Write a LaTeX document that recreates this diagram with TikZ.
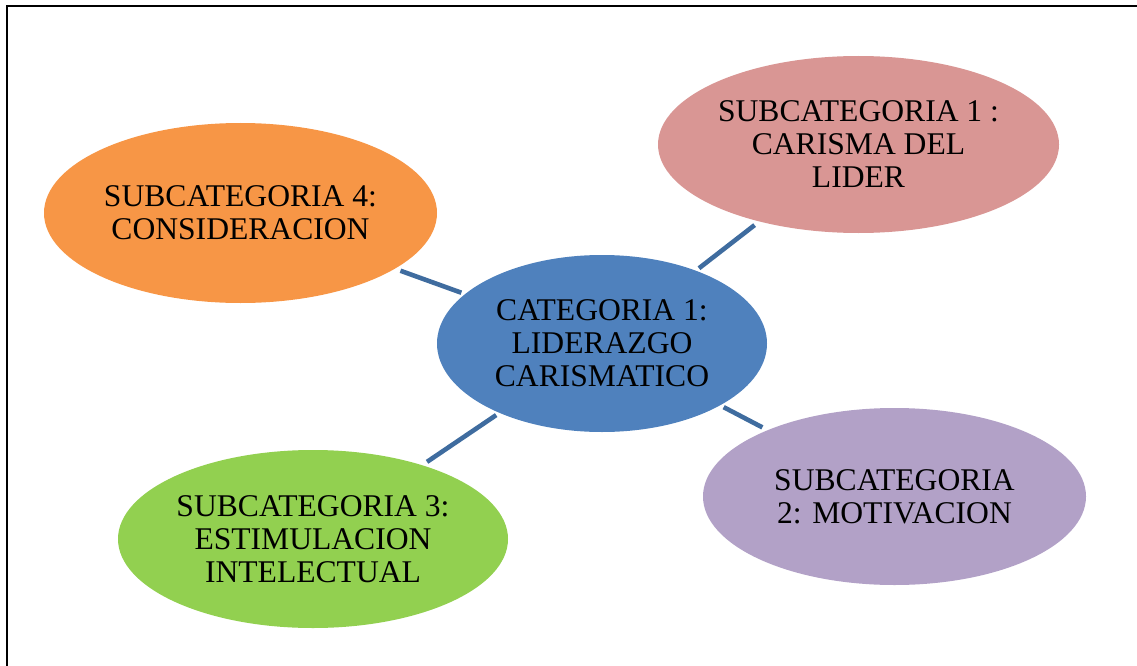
\documentclass[tikz,border=0pt]{standalone}
\usepackage{fontspec}
\setmainfont{Liberation Serif}
\usetikzlibrary{shapes.geometric}

\definecolor{catblue}{HTML}{4F81BD}
\definecolor{linkblue}{HTML}{3F6C9F}
\definecolor{subpink}{HTML}{D99694}
\definecolor{suborange}{HTML}{F79646}
\definecolor{subgreen}{HTML}{92D050}
\definecolor{subpurple}{HTML}{B2A1C7}

\tikzset{
  bubble/.style args={#1/#2/#3}{
    ellipse, fill=#1, draw=none, inner sep=0pt, outer sep=0pt,
    minimum width=#2pt, minimum height=#3pt,
    align=center, text=black,
    font=\fontsize{31.6}{33}\selectfont
  },
  link/.style={draw=linkblue, line width=4.6pt, shorten <=4pt, shorten >=6pt},
  frame/.style={draw=black, line width=2.5pt}
}

\begin{document}
\begin{tikzpicture}[x=1pt, y=-1pt]
  \useasboundingbox (0,0) rectangle (1137,666);

  % page frame (top and left rules)
  \draw[frame] (7,666) -- (7,6) -- (1137,6);

  % central category
  \node[bubble={catblue/330/177}] (cat) at (602,343.5)
    {CATEGORIA 1:\\LIDERAZGO\\CARISMATICO};

  % subcategories
  \node[bubble={subpink/401/177}] (sub1) at (858.5,144.5)
    {SUBCATEGORIA 1 :\\CARISMA DEL\\LIDER};
  \node[bubble={subpurple/383/177}] (sub2) at (894.5,496.5)
    {SUBCATEGORIA\\2: MOTIVACION};
  \node[bubble={subgreen/390/178}] (sub3) at (313,539)
    {SUBCATEGORIA 3:\\ESTIMULACION\\INTELECTUAL};
  \node[bubble={suborange/393/180}] (sub4) at (240.5,213)
    {SUBCATEGORIA 4:\\CONSIDERACION};

  % radial connectors
  \draw[link] (cat) -- (sub1);
  \draw[link] (cat) -- (sub2);
  \draw[link] (cat) -- (sub3);
  \draw[link] (cat) -- (sub4);
\end{tikzpicture}
\end{document}
